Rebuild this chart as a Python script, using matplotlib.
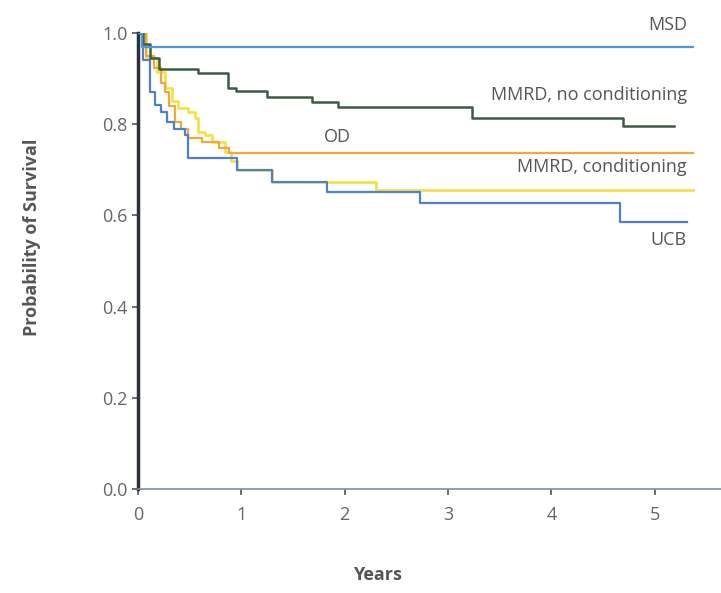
import matplotlib
matplotlib.use("Agg")
import matplotlib.pyplot as plt

# Kaplan-Meier step curves (years, survival probability)
msd_t = [0, 0.04, 5.37]
msd_s = [1.0, 0.97, 0.97]

mmrd_nc_t = [0, 0.05, 0.12, 0.20, 0.58, 0.87, 0.95, 1.25, 1.68, 1.93, 3.23, 4.69, 5.19]
mmrd_nc_s = [1.0, 0.975, 0.945, 0.92, 0.912, 0.88, 0.872, 0.86, 0.849, 0.838, 0.814, 0.796, 0.796]

od_t = [0, 0.08, 0.15, 0.22, 0.26, 0.30, 0.36, 0.42, 0.48, 0.62, 0.78, 0.88, 5.37]
od_s = [1.0, 0.95, 0.923, 0.89, 0.87, 0.84, 0.805, 0.79, 0.77, 0.76, 0.748, 0.737, 0.737]

mmrd_c_t = [0, 0.08, 0.18, 0.26, 0.33, 0.39, 0.48, 0.55, 0.58, 0.65, 0.72, 0.84, 0.90, 0.96, 1.30, 2.30, 5.37]
mmrd_c_s = [1.0, 0.945, 0.915, 0.88, 0.85, 0.835, 0.826, 0.813, 0.783, 0.776, 0.761, 0.739, 0.72, 0.70, 0.673, 0.656, 0.656]

ucb_t = [0, 0.05, 0.12, 0.16, 0.22, 0.28, 0.35, 0.45, 0.48, 0.96, 1.30, 1.83, 2.73, 4.66, 5.31]
ucb_s = [1.0, 0.94, 0.87, 0.842, 0.826, 0.805, 0.79, 0.776, 0.726, 0.70, 0.673, 0.651, 0.627, 0.586, 0.586]

x_ticks = [0, 1, 2, 3, 4, 5]
y_ticks = [0.0, 0.2, 0.4, 0.6, 0.8, 1.0]
y_tick_labels = ["0.0", "0.2", "0.4", "0.6", "0.8", "1.0"]

plt.rcParams["font.family"] = ["Open Sans", "DejaVu Sans"]

fig = plt.figure(figsize=(7.21, 5.93), dpi=100)
ax = fig.add_axes([0.1914, 0.1754, 0.8086, 0.769])

ax.step(mmrd_c_t, mmrd_c_s, where="post", color="#f2e34a", lw=2.0, zorder=2)
ax.step(od_t, od_s, where="post", color="#f0a83c", lw=1.6, zorder=3)
ax.step(ucb_t, ucb_s, where="post", color="#4f7fd0", lw=1.6, zorder=3)
ax.step(mmrd_nc_t, mmrd_nc_s, where="post", color="#3d5a45", lw=1.8, zorder=4)
ax.step(msd_t, msd_s, where="post", color="#4c98e0", lw=1.6, zorder=4)

text_kw = dict(fontsize=13, color="#555555", clip_on=False)
ax.text(5.31, 1.018, "MSD", ha="right", va="center", **text_kw)
ax.text(5.31, 0.864, "MMRD, no conditioning", ha="right", va="center", **text_kw)
ax.text(1.93, 0.772, "OD", ha="center", va="center", **text_kw)
ax.text(5.31, 0.706, "MMRD, conditioning", ha="right", va="center", **text_kw)
ax.text(5.31, 0.546, "UCB", ha="right", va="center", **text_kw)

ax.set_xlim(0, 5.64)
ax.set_ylim(0, 1.0)
ax.set_xticks(x_ticks)
ax.set_yticks(y_ticks)
ax.set_yticklabels(y_tick_labels)
ax.tick_params(axis="both", labelsize=13, labelcolor="#666666", color="#555555",
               length=4, width=1.2, direction="out")
ax.tick_params(axis="x", pad=8)

for side in ("top", "right"):
    ax.spines[side].set_visible(False)
ax.spines["left"].set_color("#2b3040")
ax.spines["left"].set_linewidth(2.5)
ax.spines["bottom"].set_color("#7f8ea6")
ax.spines["bottom"].set_linewidth(1.2)

fig.text(0.045, 0.60, "Probability of Survival", rotation=90, ha="center", va="center",
         fontsize=13, fontweight="bold", color="#555555")
fig.text(0.523, 0.03, "Years", ha="center", va="center",
         fontsize=13, fontweight="bold", color="#555555")

fig.savefig("out.png", dpi=100)
